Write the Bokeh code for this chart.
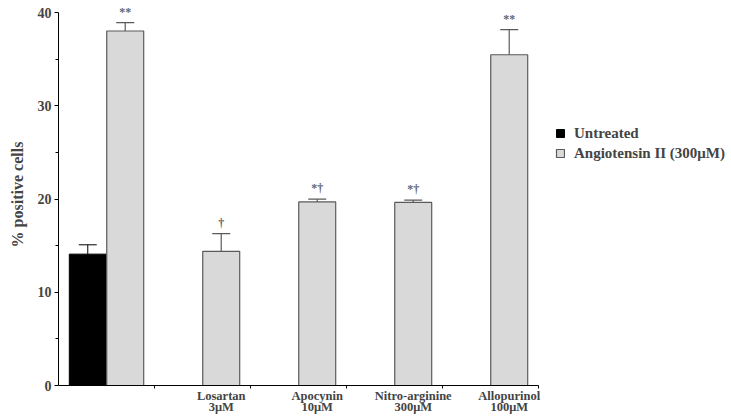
from bokeh.plotting import figure
from bokeh.models import (ColumnDataSource, FixedTicker, Whisker, TeeHead, LabelSet,
                          Legend, LegendItem, Range1d)
from bokeh.embed import file_html
from bokeh.resources import INLINE

# ---- data ----
group_labels = ["", "Losartan\n3μM", "Apocynin\n10μM", "Nitro-arginine\n300μM", "Allopurinol\n100μM"]
untreated_mean = [14.1]
untreated_err = [1.0]
angii_mean = [38.05, 14.4, 19.7, 19.65, 35.5]
angii_err = [0.9, 1.9, 0.3, 0.25, 2.7]
sig_marks = ["**", "†", "*†", "*†", "**"]
y_ticks = [0, 10, 20, 30, 40]
y_minor = [5, 15, 25, 35]

FONT = "Liberation Serif"
BAR_W = 0.385
OFF = 0.195

n = len(group_labels)
untreated_x = [i + 0.5 - OFF for i in range(len(untreated_mean))]
angii_x = [i + 0.5 + OFF for i in range(n)]

src_u = ColumnDataSource(dict(x=untreated_x, top=untreated_mean,
                              upper=[m + e for m, e in zip(untreated_mean, untreated_err)]))
src_a = ColumnDataSource(dict(x=angii_x, top=angii_mean,
                              upper=[m + e for m, e in zip(angii_mean, angii_err)],
                              sig=sig_marks,
                              sig_y=[m + e + 0.75 for m, e in zip(angii_mean, angii_err)]))

p = figure(frame_width=480, frame_height=382, x_range=Range1d(0, n), y_range=Range1d(0, 41),
           output_backend="svg", toolbar_location=None,
           min_border_left=58, min_border_top=3, min_border_bottom=33, min_border_right=0)
p.outline_line_color = None
p.xgrid.visible = False
p.ygrid.visible = False
p.background_fill_color = "white"

r_u = p.vbar(x="x", top="top", width=BAR_W, bottom=0, source=src_u,
             fill_color="black", line_color="black", line_width=1)
r_a = p.vbar(x="x", top="top", width=BAR_W, bottom=0, source=src_a,
             fill_color="#d9d9d9", line_color="#5a5a5a", line_width=1.2)

p.add_layout(Whisker(source=src_u, base="x", lower="top", upper="upper",
                     line_color="black", line_width=1,
                     upper_head=TeeHead(size=18, line_color="black", line_width=1),
                     lower_head=None))
p.add_layout(Whisker(source=src_a, base="x", lower="top", upper="upper",
                     line_color="#5a5a5a", line_width=1.2,
                     upper_head=TeeHead(size=18, line_color="#5a5a5a", line_width=1.2),
                     lower_head=None))

p.add_layout(LabelSet(x="x", y="sig_y", text="sig", source=src_a, text_align="center",
                      text_baseline="alphabetic", text_font=FONT, text_font_size="12px",
                      text_font_style="bold", text_color="#666666"))

# y axis
ya = p.yaxis[0]
ya.bounds = (0, 40)
ya.ticker = FixedTicker(ticks=y_ticks, minor_ticks=y_minor)
ya.axis_label = "% positive cells"
ya.axis_label_text_font = FONT
ya.axis_label_text_font_style = "bold"
ya.axis_label_text_font_size = "16px"
ya.axis_label_standoff = 9
ya.major_label_text_font = FONT
ya.major_label_text_font_style = "bold"
ya.major_label_text_font_size = "14px"
ya.major_tick_in = 0
ya.major_tick_out = 4
ya.minor_tick_in = 0
ya.minor_tick_out = 3
ya.major_label_standoff = 3
ya.axis_line_color = "black"

# x axis: boundary ticks as minor ticks, labels under gray bars
xa = p.xaxis[0]
lab_pos = angii_x[1:]
xa.ticker = FixedTicker(ticks=lab_pos, minor_ticks=[float(i) for i in range(1, n + 1)])
xa.major_label_overrides = {x: t for x, t in zip(lab_pos, group_labels[1:])}
xa.major_tick_line_color = None
xa.major_tick_in = 0
xa.major_tick_out = 0
xa.minor_tick_in = 0
xa.minor_tick_out = 3
xa.major_label_standoff = 0
xa.major_label_text_font = FONT
xa.major_label_text_font_style = "bold"
xa.major_label_text_font_size = "12.5px"
xa.major_label_text_line_height = 0.8
xa.major_label_text_align = "center"

legend = Legend(items=[LegendItem(label="Untreated", renderers=[r_u]),
                       LegendItem(label="Angiotensin II (300μM)", renderers=[r_a])],
                location=(17, 222), orientation="vertical",
                glyph_width=10, glyph_height=10, label_height=20, spacing=0,
                label_standoff=9, padding=0, margin=0,
                label_text_font=FONT, label_text_font_style="bold", label_text_font_size="15px",
                border_line_color=None, background_fill_alpha=0)
p.add_layout(legend, "right")

open("out.html", "w").write(file_html(p, INLINE))
